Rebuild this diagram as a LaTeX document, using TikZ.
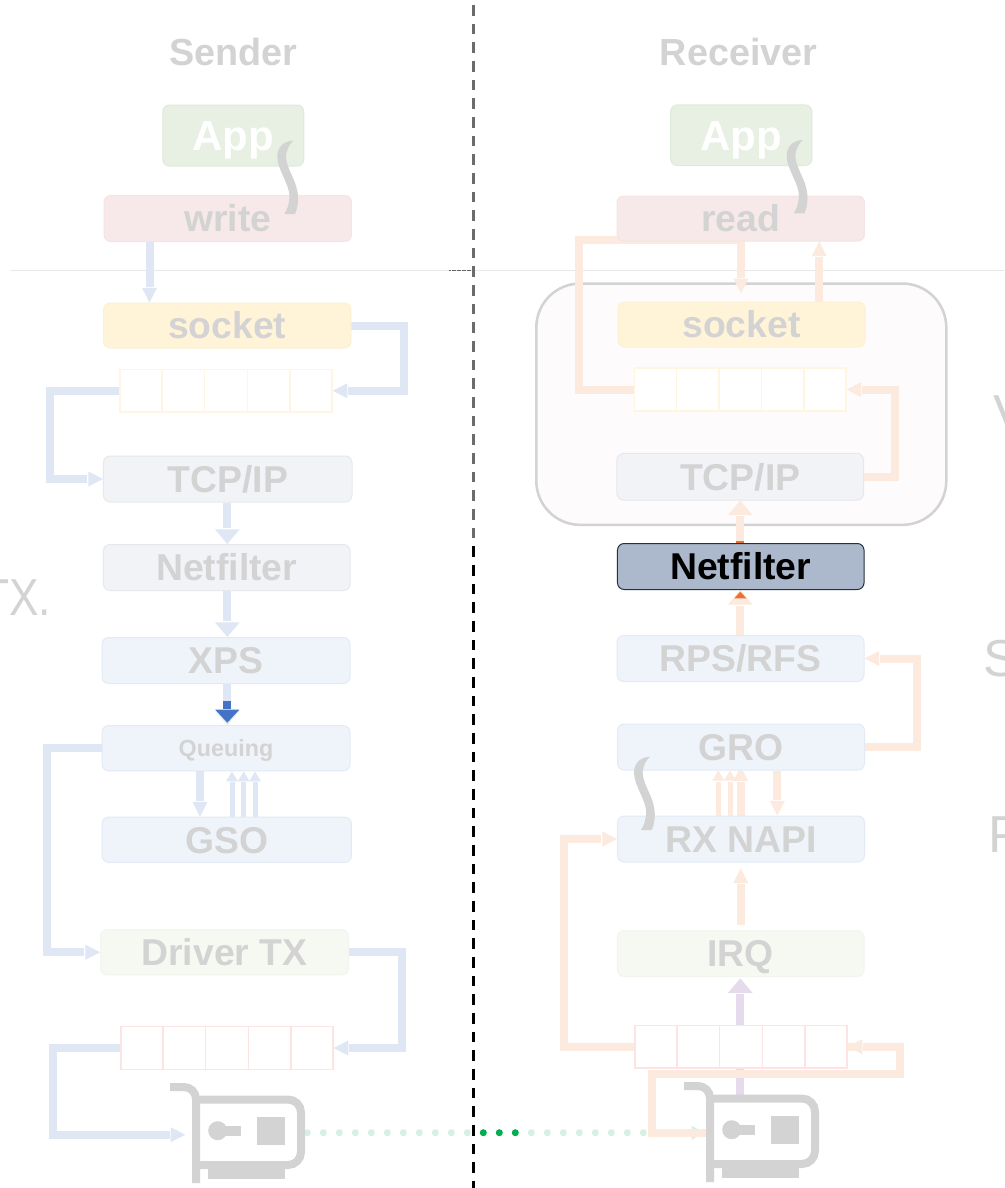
\documentclass[tikz,border=0pt]{standalone}
\usepackage{fontspec}
\setmainfont{Liberation Sans}
\usetikzlibrary{arrows.meta,calc}
\definecolor{cgray}{HTML}{D3D3D3}
\definecolor{cblue}{HTML}{E0E7F4}
\definecolor{corange}{HTML}{FCEADF}
\definecolor{cpurple}{HTML}{E5DBED}
\definecolor{cgreen}{HTML}{D5F1E2}
\definecolor{cdkgreen}{HTML}{00AE4F}
\definecolor{cdkblue}{HTML}{4472C4}
\definecolor{cdkorange}{HTML}{E97132}
\definecolor{appfill}{HTML}{E7F0E2}
\definecolor{appline}{HTML}{E0EADA}
\definecolor{sysfill}{HTML}{F7E9E9}
\definecolor{sysline}{HTML}{F5E4E4}
\definecolor{sockfill}{HTML}{FFF3D8}
\definecolor{sockline}{HTML}{FDF0D4}
\definecolor{ipfill}{HTML}{F2F3F7}
\definecolor{ipline}{HTML}{E7E8EA}
\definecolor{devfill}{HTML}{EFF4FB}
\definecolor{devline}{HTML}{E4EAF5}
\definecolor{drvfill}{HTML}{F5F9F2}
\definecolor{drvline}{HTML}{F2F6EE}
\definecolor{hifill}{HTML}{ACB8CB}
\definecolor{hiline}{HTML}{26303F}
\definecolor{qyellow}{HTML}{FFF5E3}
\definecolor{qpink}{HTML}{FEE3E4}
\definecolor{contfill}{HTML}{FDFBFC}
\tikzset{
  boxbase/.style={rectangle,rounded corners=5pt,inner sep=0pt,line width=0.75pt,text=cgray,
    font=\fontsize{28}{30}\selectfont\bfseries,text height=20.2pt,text depth=0pt,align=center},
  appbox/.style={boxbase,fill=appfill,draw=appline,text=white,
    font=\fontsize{31.5}{33}\selectfont\bfseries,text height=22.5pt},
  sysbox/.style={boxbase,fill=sysfill,draw=sysline},
  sockbox/.style={boxbase,fill=sockfill,draw=sockline},
  ipbox/.style={boxbase,fill=ipfill,draw=ipline},
  devbox/.style={boxbase,fill=devfill,draw=devline},
  drvbox/.style={boxbase,fill=drvfill,draw=drvline},
  hibox/.style={boxbase,fill=hifill,draw=hiline,text=black},
  qbox/.style={rectangle,inner sep=0pt,fill=white,line width=1pt},
  title/.style={text=cgray,font=\fontsize{28.3}{30}\selectfont\bfseries,inner sep=0pt},
  edgetext/.style={text=cgray,font=\fontsize{39}{41}\selectfont,inner sep=0pt,anchor=base west},
  flow/.style={line width=6pt,line cap=butt,line join=miter},
  thinflow/.style={line width=3.75pt,line cap=butt},
  tipn/.style={-{Rectangle[color=white,length=0.75pt,width=6pt,line width=0pt,sep=0pt]Triangle[length=11pt,width=11.25pt,line width=0pt]}},
  tipw/.style={-{Rectangle[color=white,length=0.75pt,width=6pt,line width=0pt,sep=0pt]Triangle[length=11pt,width=18.5pt,line width=0pt]}},
  tipt/.style={-{Rectangle[color=white,length=0.5pt,width=3.75pt,line width=0pt,sep=0pt]Triangle[length=7.5pt,width=9pt,line width=0pt]}},
}
\newcommand{\qcells}[2]{%
  \foreach \i in {1,2,3,4}
    \draw[#2,line width=1pt] ($(#1.south west)!\i/5!(#1.south east)$) -- ($(#1.north west)!\i/5!(#1.north east)$);}
\newcommand{\wiggle}[2]{%
  \begin{scope}[shift={(#1,#2)}]
  \fill[cgray] (293.3,140.7) .. controls (283,141) and (277,148) .. (277.3,157)
    .. controls (277.5,170) and (290,185) .. (289.5,197)
    .. controls (289,205) and (287,210) .. (284.3,214) -- (295,214)
    .. controls (299,205) and (300,193) .. (293,178)
    .. controls (288,167) and (284,158) .. (287,151)
    .. controls (288,147) and (290,144) .. (293.3,140.7) -- cycle;
  \end{scope}}
\newcommand{\nicicon}[2]{%
  \begin{scope}[shift={(#1,#2)}]
  \draw[cgray,line width=6pt,rounded corners=9pt] (170,1087) -- (196,1087) -- (196,1183);
  \draw[cgray,line width=6pt,rounded corners=9.75pt] (196,1099.5) -- (301,1099.5) -- (301,1165) -- (196,1165);
  \fill[cgray] (217.7,1130.7) circle [radius=9.5];
  \fill[cgray] (217.7,1126) rectangle (241,1135.7);
  \fill[cgray] (257.3,1117) rectangle (285.3,1144.7);
  \fill[cgray] (208.3,1169) rectangle (285.3,1178.7);
  \end{scope}}
\newcommand{\allnodes}{%
  \node[appbox,minimum width=105.75pt,minimum height=45.75pt] (sapp) at (233.25,135.5) {App};
  \node[sysbox,minimum width=185.6pt,minimum height=34.5pt] (swrite) at (227.75,218.5) {write};
  \node[sockbox,minimum width=185.6pt,minimum height=33.75pt] (ssock) at (227.25,325.5) {socket};
  \node[ipbox,minimum width=186.4pt,minimum height=34.5pt] (stcp) at (227.75,479) {TCP/IP};
  \node[ipbox,minimum width=185pt,minimum height=34.5pt] (snet) at (226.75,567.5) {Netfilter};
  \node[devbox,minimum width=186pt,minimum height=34.5pt] (sxps) at (226,660.5) {XPS};
  \node[devbox,minimum width=186pt,minimum height=34pt,
    font=\fontsize{17.5}{19}\selectfont\bfseries,text height=12.6pt] (sq) at (226,748.25) {Queuing};
  \node[devbox,minimum width=187pt,minimum height=34pt] (sgso) at (226.75,839.75) {GSO};
  \node[drvbox,minimum width=186pt,minimum height=34pt] (sdrv) at (224.5,952.25) {Driver TX};
  \node[appbox,minimum width=106pt,minimum height=45.4pt] (rapp) at (741.25,135.25) {App};
  \node[sysbox,minimum width=185.6pt,minimum height=33.75pt] (rread) at (740.75,218.5) {read};
  \node[sockbox,minimum width=185.25pt,minimum height=33.75pt] (rsock) at (741.5,324.5) {socket};
  \node[ipbox,minimum width=185pt,minimum height=34.9pt] (rtcp) at (740.25,476.75) {TCP/IP};
  \node[hibox,minimum width=184.9pt,minimum height=34.5pt] (rnet) at (740.75,566.5) {Netfilter};
  \node[devbox,minimum width=185.25pt,minimum height=34.5pt] (rrps) at (740.5,658.5) {RPS/RFS};
  \node[devbox,minimum width=185.25pt,minimum height=34.5pt] (rgro) at (741,747) {GRO};
  \node[devbox,minimum width=185.25pt,minimum height=34.5pt] (rnapi) at (741,839) {RX NAPI};
  \node[drvbox,minimum width=184.9pt,minimum height=34.5pt] (rirq) at (740.75,953.5) {IRQ};
  \node[qbox,draw=qyellow,minimum width=159pt,minimum height=32pt] (sq1) at (226,390.75) {};
  \node[qbox,draw=qpink,minimum width=159pt,minimum height=32pt] (sq2) at (227,1048) {};
  \node[qbox,draw=qyellow,minimum width=158.6pt,minimum height=32.25pt] (rq1) at (740.25,389.5) {};
  \node[qbox,draw=qpink,minimum width=159pt,minimum height=32pt] (rq2) at (741,1046.75) {};
  \qcells{sq1}{qyellow}\qcells{sq2}{qpink}\qcells{rq1}{qyellow}\qcells{rq2}{qpink}%
}
\begin{document}
\begin{tikzpicture}[x=0.75pt,y=-0.75pt]
\clip (0,0) rectangle (1004,1188);
\fill[white] (0,0) rectangle (1004,1188);

% edge texts cut by the page
\node[edgetext,xscale=0.85] (txt) at (-18,615.5) {TX.};
\node[edgetext] (vtxt) at (993,431) {V};
\node[edgetext] (stxt) at (983,676) {S};
\node[edgetext] (ptxt) at (988,852) {P};

% separators
\coordinate (hl) at (10,270.5);
\coordinate (hr) at (1004,270.5);
\coordinate (hm) at (449,270.5);
\coordinate (vc) at (473.3,270.5);
\draw[black!9,line width=0.75pt] (hl) -- (hr);
\draw[black!60,line width=0.6pt,dash pattern=on 1.5pt off 0.4pt] (hm) -- (vc);
\coordinate (vtop) at (473.3,5);
\coordinate (vmid) at (473.3,546.4);
\coordinate (vbot) at (473.3,1188);
\draw[black!58,line width=2pt,dash pattern=on 8pt off 6pt] (vtop) -- (vmid);
\draw[black,line width=2pt,dash pattern=on 8pt off 6pt] (vmid) -- (vbot);

% container
\node[rectangle,rounded corners=33pt,fill=contfill,draw=cgray,line width=1.9pt,
  minimum width=307.5pt,minimum height=181pt,inner sep=0pt] (cont) at (741.3,404.2) {};

% named places on the NICs
\coordinate (nicSin) at (185.3,1134.7);
\coordinate (nicSout) at (307.3,1132.7);
\coordinate (nicRin) at (675.3,1132.7);
\coordinate (nicRport) at (706,1132.7);
\coordinate (nicRtop) at (740.3,1097);
\coordinate (dotA) at (483.3,1132.7);
\coordinate (dotB) at (515.4,1132.7);

% first pass only to define the names
\begin{scope}[opacity=0]\allnodes\end{scope}

% green link
\draw[cgreen,line width=5.25pt,line cap=round,dash pattern=on 0pt off 12pt] (nicSout) -- (nicRin);
\draw[cdkgreen,line width=5.25pt,line cap=round,dash pattern=on 0pt off 12pt] (dotA) -- (dotB);
\fill[cgreen] (691.5,1125.5) -- (703.5,1132.7) -- (691.5,1140) -- cycle;

% sender connectors
\begin{scope}[cblue]
\draw[flow,tipn] (149.5,0 |- swrite.south) -- (149.5,0 |- ssock.north);
\draw[flow,tipn] (ssock.east) -- (404.3,0 |- ssock.east) -- (404.3,0 |- sq1.east) -- (sq1.east);
\draw[flow,tipn] (sq1.west) -- (49.5,0 |- sq1.west) -- (49.5,0 |- stcp.west) -- (stcp.west);
\draw[flow,tipw] (227.3,0 |- stcp.south) -- (227.3,0 |- snet.north);
\draw[flow,tipw] (227.3,0 |- snet.south) -- (227.3,0 |- sxps.north);
\draw[flow,tipw] (227.3,0 |- sxps.south) -- (227.3,0 |- sq.north);
\draw[flow,tipn] (sq.west) -- (47,0 |- sq.west) -- (47,0 |- sdrv.west) -- (sdrv.west);
\draw[flow,tipn] (200,0 |- sq.south) -- (200,0 |- sgso.north);
\draw[thinflow,tipt] (232,0 |- sgso.north) -- (232,0 |- sq.south);
\draw[thinflow,tipt] (243.7,0 |- sgso.north) -- (243.7,0 |- sq.south);
\draw[thinflow,tipt] (255,0 |- sgso.north) -- (255,0 |- sq.south);
\draw[flow,tipn] (sdrv.east) -- (402.3,0 |- sdrv.east) -- (402.3,0 |- sq2.east) -- (sq2.east);
\draw[flow,tipn] (sq2.west) -- (53.3,0 |- sq2.west) -- (53.3,0 |- nicSin) -- (nicSin);
\end{scope}
\coordinate (xpsdark) at (227.3,701);
\draw[cdkblue,flow,shorten >=1.8pt,-{Rectangle[color=white,length=0.75pt,width=6pt,line width=0pt,sep=0pt]Triangle[length=9.75pt,width=18pt,line width=0pt]}] (xpsdark) -- (227.3,0 |- sq.north);

% receiver connectors
\draw[cpurple,flow,tipw,shorten >=1pt] (nicRtop) -- (740.3,0 |- rirq.south);
\begin{scope}[corange]
\draw[flow] (nicRport) -- (652.3,0 |- nicRport) -- (652.3,1073.7) -- (900,1073.7) -- (900,0 |- rq2.east) -- (rq2.east |- rq2.east);
\draw[flow,tipn] (900,0 |- rq2.east) -- (rq2.east);
\draw[flow,tipn] (rq2.west) -- (563.7,0 |- rq2.west) -- (563.7,0 |- rnapi.west) -- (rnapi.west);
\draw[flow,tipn,shorten <=4pt,shorten >=4.5pt] (740.7,0 |- rirq.north) -- (740.7,0 |- rnapi.south);
\draw[thinflow,tipt] (718.3,0 |- rnapi.north) -- (718.3,0 |- rgro.south);
\draw[thinflow,tipt] (730,0 |- rnapi.north) -- (730,0 |- rgro.south);
\draw[flow,tipn,shorten >=-3pt] (740.7,0 |- rnapi.north) -- (740.7,0 |- rgro.south);
\draw[flow,tipn] (777.3,0 |- rgro.south) -- (777.3,0 |- rnapi.north);
\draw[flow,tipn] (rgro.east) -- (917.3,0 |- rgro.east) -- (917.3,0 |- rrps.east) -- (rrps.east);
\draw[flow,tipw] (740.3,0 |- rrps.north) -- (740.3,0 |- rnet.south);
\draw[flow,tipw] (740.3,0 |- rnet.north) -- (740.3,0 |- rtcp.south);
\draw[flow,tipn] (rtcp.east) -- (894.7,0 |- rtcp.east) -- (894.7,0 |- rq1.east) -- (rq1.east);
\draw[flow,tipn] (rq1.west) -- (579,0 |- rq1.west) -- (579,240) -- (741,240) -- (741,293.3);
\draw[flow,tipn] (819.3,0 |- rsock.north) -- (819.3,0 |- rread.south);
\end{scope}

% nodes on top of connectors
\allnodes

% highlighted fragments around the receiver Netfilter
\fill[cdkorange] (735.5,541.2) rectangle (743.7,543);
\fill[cdkorange] (740.3,591.7) -- (746.3,598.3) -- (734.3,598.3) -- cycle;

% titles
\node[title] (tsend) at (233,52) {Sender};
\node[title] (trecv) at (738.5,52) {Receiver};

% NIC icons
\nicicon{0}{0}
\nicicon{514}{-1}

% wiggles
\wiggle{0}{0}
\wiggle{509.4}{-0.7}
\wiggle{356.7}{616}
\end{tikzpicture}
\end{document}
